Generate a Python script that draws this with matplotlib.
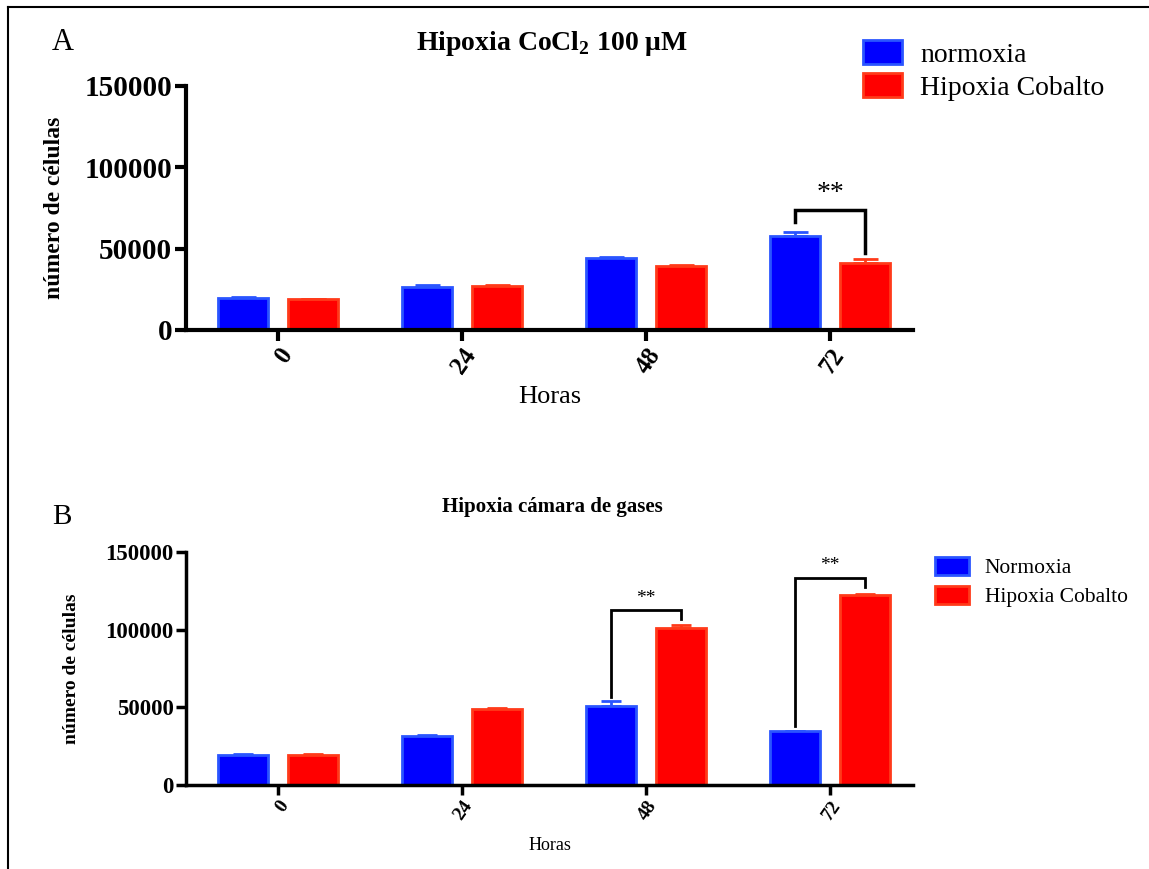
import numpy as np
import matplotlib
matplotlib.use("Agg")
import matplotlib.pyplot as plt
from matplotlib.lines import Line2D

plt.rcParams['font.family'] = ['Liberation Serif', 'DejaVu Serif']
plt.rcParams['mathtext.fontset'] = 'custom'
plt.rcParams['mathtext.rm'] = 'Liberation Serif'

horas = ["0", "24", "48", "72"]

# Panel A: CoCl2 100 uM
a_normoxia = [19800, 26500, 44200, 57700]
a_normoxia_err = [300, 1000, 400, 2400]
a_cobalto = [19000, 27100, 39300, 41400]
a_cobalto_err = [300, 800, 600, 2000]
a_labels = ["normoxia", "Hipoxia Cobalto"]

# Panel B: camara de gases
b_normoxia = [19600, 31800, 50700, 34600]
b_normoxia_err = [300, 300, 3500, 300]
b_cobalto = [19500, 49000, 101000, 122100]
b_cobalto_err = [300, 300, 1700, 800]
b_labels = ["Normoxia", "Hipoxia Cobalto"]

BLUE, BLUE_EDGE = "#0000ff", "#2a55ff"
RED, RED_EDGE = "#ff0000", "#ff3a1a"

fig = plt.figure(figsize=(11.49, 8.69), dpi=100)

# frame lines around the figure
fig.add_artist(Line2D([8/1149, 8/1149], [0, 1 - 7/869], color="black", lw=1.5))
fig.add_artist(Line2D([8/1149, 1], [1 - 7/869, 1 - 7/869], color="black", lw=1.5))

x = np.arange(len(horas))
off, w = 0.19, 0.27


def draw_panel(ax, norm, norm_err, cob, cob_err, labels, sz):
    ax.bar(x - off, norm, w, color=BLUE, edgecolor=BLUE_EDGE, linewidth=2,
           label=labels[0], zorder=2)
    ax.bar(x + off, cob, w, color=RED, edgecolor=RED_EDGE, linewidth=2,
           label=labels[1], zorder=2)
    for xs, vals, errs, c in [(x - off, norm, norm_err, BLUE_EDGE),
                              (x + off, cob, cob_err, RED_EDGE)]:
        ax.errorbar(xs, vals, yerr=[np.zeros(len(vals)), errs], fmt="none",
                    ecolor=c, elinewidth=2, capsize=sz["cap"], capthick=2, zorder=1)
    ax.set_xlim(-0.5, 3.45)
    ax.set_ylim(0, 150000)
    ax.set_yticks([0, 50000, 100000, 150000])
    ax.set_xticks(x)
    ax.set_xticklabels(horas, rotation=55, ha="right", rotation_mode="anchor",
                       fontweight="bold", fontsize=sz["xt"])
    for t in ax.get_yticklabels():
        t.set_fontweight("bold")
        t.set_fontsize(sz["yt"])
    for s in ["top", "right"]:
        ax.spines[s].set_visible(False)
    for s in ["left", "bottom"]:
        ax.spines[s].set_linewidth(sz["lw"])
    ax.tick_params(axis="both", width=sz["lw"], length=sz["tl"], pad=2)
    ax.set_ylabel("número de células", fontweight="bold", fontsize=sz["yl"],
                  labelpad=sz["ylpad"])
    ax.set_xlabel("Horas", fontsize=sz["xl"], labelpad=sz["xlpad"])


def bracket(ax, x0, x1, y_top, y0, y1, txt, fs, lw):
    ax.plot([x0, x0, x1, x1], [y0, y_top, y_top, y1], color="black", lw=lw,
            solid_joinstyle="miter", zorder=3)
    ax.text((x0 + x1) / 2, y_top + 2500, txt, ha="center", va="bottom",
            fontsize=fs)


# ---- Panel A ----
axA = fig.add_axes([186/1149, 1 - 330/869, 727/1149, 244/869])
szA = dict(xt=18, yt=21, yl=17, ylpad=14, xl=19, xlpad=6, lw=3, tl=8, cap=9)
draw_panel(axA, a_normoxia, a_normoxia_err, a_cobalto, a_cobalto_err, a_labels, szA)
bracket(axA, 3 - off, 3 + off, 74000, 66300, 47500, "**", 20, 2.5)
fig.text(552/1149, 1 - 43/869, r"Hipoxia CoCl$_\mathregular{2}$ 100 μM",
         ha="center", va="center", fontsize=20, fontweight="bold")
fig.text(52/1149, 1 - 43/869, "A", ha="left", va="center", fontsize=22)
axA.legend(loc="upper left", bbox_to_anchor=(863/1149, 1 - 40/869),
           bbox_transform=fig.transFigure, frameon=False, fontsize=20,
           handlelength=1.4, handleheight=0.95, handletextpad=0.65,
           labelspacing=0.2, borderaxespad=0, borderpad=0)

# ---- Panel B ----
axB = fig.add_axes([186/1149, 1 - 785/869, 727/1149, 233/869])
szB = dict(xt=14, yt=16.5, yl=14, ylpad=18, xl=13, xlpad=10, lw=2.5, tl=7, cap=7)
draw_panel(axB, b_normoxia, b_normoxia_err, b_cobalto, b_cobalto_err, b_labels, szB)
bracket(axB, 2 - off, 2 + off, 112400, 56500, 106600, "**", 14, 2)
bracket(axB, 3 - off, 3 + off, 133300, 37800, 127400, "**", 14, 2)
fig.text(552/1149, 1 - 507/869, "Hipoxia cámara de gases",
         ha="center", va="center", fontsize=15, fontweight="bold")
fig.text(52/1149, 1 - 517/869, "B", ha="left", va="center", fontsize=21)
axB.legend(loc="upper left", bbox_to_anchor=(935/1149, 1 - 557/869),
           bbox_transform=fig.transFigure, frameon=False, fontsize=15.5,
           handlelength=1.6, handleheight=0.9, handletextpad=0.7,
           labelspacing=0.35, borderaxespad=0, borderpad=0)

fig.savefig("out.png", dpi=100)
